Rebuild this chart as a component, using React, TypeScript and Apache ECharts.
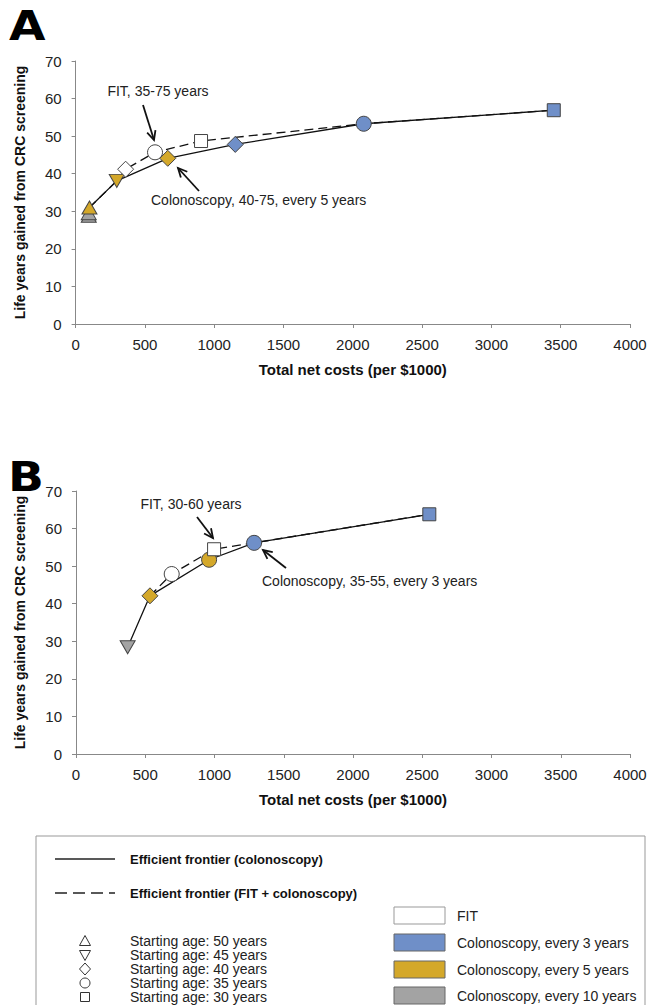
import React, { useEffect, useRef } from "react";
import * as echarts from "echarts";

const FONT = '"Liberation Sans", Arial, Helvetica, sans-serif';

// ---------- Panel A data ----------
const aCosts = [95, 95, 100, 297, 361, 573, 665, 905, 1152, 2079, 3450];
const aLifeYears = [28.8, 29.5, 31.0, 38.1, 41.2, 45.7, 44.1, 48.7, 47.8, 53.3, 56.9];
const aStartAge = [50, 50, 50, 45, 40, 35, 40, 30, 40, 35, 30];
const aStrategy = ["col10", "col10", "col5", "col5", "fit", "fit", "col5", "fit", "col3", "col3", "col3"];
const aFrontierColonoscopy = [1, 2, 3, 6, 8, 9, 10];
const aFrontierFitColonoscopy = [2, 3, 4, 5, 7, 9, 10];

// ---------- Panel B data ----------
const bCosts = [373, 534, 691, 961, 997, 1286, 2551];
const bLifeYears = [28.4, 42.1, 47.9, 51.7, 54.5, 56.2, 63.8];
const bStartAge = [45, 40, 35, 35, 30, 35, 30];
const bStrategy = ["col10", "col5", "fit", "col5", "fit", "col3", "col3"];
const bFrontierColonoscopy = [0, 1, 3, 5, 6];
const bFrontierFitColonoscopy = [1, 2, 4, 5, 6];

// ---------- Axis ticks ----------
const xTicks = [0, 500, 1000, 1500, 2000, 2500, 3000, 3500, 4000];
const yTicks = [0, 10, 20, 30, 40, 50, 60, 70];

// ---------- Legend texts ----------
const ageLegendAges = [50, 45, 40, 35, 30];
const ageLegend = [
  "Starting age: 50 years",
  "Starting age: 45 years",
  "Starting age: 40 years",
  "Starting age: 35 years",
  "Starting age: 30 years",
];
const strategyLegend = ["FIT", "Colonoscopy, every 3 years", "Colonoscopy, every 5 years", "Colonoscopy, every 10 years"];
const strategyKeys = ["fit", "col3", "col5", "col10"];

const COLORS: Record<string, string> = {
  fit: "#ffffff",
  col3: "#6f8fc8",
  col5: "#d4a82a",
  col10: "#a3a3a3",
};

function symbolFor(age: number) {
  switch (age) {
    case 50:
      return { symbol: "triangle", symbolSize: [15, 13], symbolRotate: 0 };
    case 45:
      return { symbol: "triangle", symbolSize: [15, 13], symbolRotate: 180 };
    case 40:
      return { symbol: "diamond", symbolSize: [16, 16], symbolRotate: 0 };
    case 35:
      return { symbol: "circle", symbolSize: 15, symbolRotate: 0 };
    default:
      return { symbol: "rect", symbolSize: 13, symbolRotate: 0 };
  }
}

function markerData(costs: number[], ly: number[], ages: number[], strat: string[]) {
  return costs.map((c, i) => ({
    value: [c, ly[i]],
    ...symbolFor(ages[i]),
    itemStyle: { color: COLORS[strat[i]], borderColor: "#444", borderWidth: 1, opacity: 1 },
  }));
}

function pathData(costs: number[], ly: number[], idx: number[]) {
  return idx.map((i) => [costs[i], ly[i]]);
}

function arrow(x1: number, y1: number, x2: number, y2: number) {
  const ang = Math.atan2(y2 - y1, x2 - x1);
  const len = 10;
  const spread = 0.45;
  const p1 = [x2 - len * Math.cos(ang - spread), y2 - len * Math.sin(ang - spread)];
  const p2 = [x2 - len * Math.cos(ang + spread), y2 - len * Math.sin(ang + spread)];
  return [
    { type: "line", shape: { x1, y1, x2, y2 }, style: { stroke: "#111", lineWidth: 1.8 }, z: 100 },
    {
      type: "polyline",
      shape: { points: [p1, [x2, y2], p2] },
      style: { stroke: "#111", lineWidth: 1.8, fill: null },
      z: 100,
    },
  ];
}

function txt(text: string, x: number, y: number, opts: any = {}) {
  const size = opts.size ?? 14;
  const weight = opts.weight ?? "normal";
  return {
    type: "text",
    x,
    y,
    scaleX: opts.scaleX ?? 1,
    z: 100,
    style: {
      text,
      fill: opts.color ?? "#222",
      font: `${weight} ${size}px ${opts.family ?? FONT}`,
      textAlign: opts.align ?? "left",
      textVerticalAlign: "middle",
      align: opts.align ?? "left",
      verticalAlign: "middle",
    },
  };
}

function legendSymbol(age: number, cx: number, cy: number) {
  const st = { fill: "none", stroke: "#333", lineWidth: 1 };
  const r = 5.5;
  switch (age) {
    case 50:
      return { type: "polygon", shape: { points: [[cx, cy - r], [cx + r, cy + r - 1], [cx - r, cy + r - 1]] }, style: st, z: 100 };
    case 45:
      return { type: "polygon", shape: { points: [[cx - r, cy - r + 1], [cx + r, cy - r + 1], [cx, cy + r]] }, style: st, z: 100 };
    case 40:
      return { type: "polygon", shape: { points: [[cx, cy - r - 0.5], [cx + r, cy], [cx, cy + r + 0.5], [cx - r, cy]] }, style: st, z: 100 };
    case 35:
      return { type: "circle", shape: { cx, cy, r: 5 }, style: st, z: 100 };
    default:
      return { type: "rect", shape: { x: cx - 4.5, y: cy - 4.5, width: 9, height: 9 }, style: st, z: 100 };
  }
}

function axisCommon() {
  return {
    axisLine: { show: true, onZero: false, lineStyle: { color: "#888", width: 1 } },
    axisTick: { show: true, inside: false, length: 4, lineStyle: { color: "#888" } },
    splitLine: { show: false },
  };
}

export default function App() {
  const ref = useRef<HTMLDivElement>(null);

  useEffect(() => {
    if (!ref.current) return;
    const chart = echarts.init(ref.current, null, { renderer: "svg" });

    const gridA = { left: 75.6, top: 61, width: 554.4, height: 263 };
    const gridB = { left: 76, top: 491, width: 554, height: 263 };

    const xAxis = (gi: number) => ({
      type: "value",
      gridIndex: gi,
      min: xTicks[0],
      max: xTicks[xTicks.length - 1],
      interval: xTicks[1] - xTicks[0],
      ...axisCommon(),
      axisLabel: { fontSize: 15, color: "#222", margin: 13, fontFamily: FONT, formatter: (v: number) => String(v) },
      name: "Total net costs (per $1000)",
      nameLocation: "middle",
      nameGap: 38,
      nameTextStyle: { fontSize: 15, fontWeight: "bold", color: "#111", fontFamily: FONT },
    });
    const yAxis = (gi: number) => ({
      type: "value",
      gridIndex: gi,
      min: yTicks[0],
      max: yTicks[yTicks.length - 1],
      interval: yTicks[1] - yTicks[0],
      ...axisCommon(),
      axisLabel: { fontSize: 15, color: "#222", margin: 14, fontFamily: FONT, formatter: (v: number) => String(v) },
      name: "Life years gained from CRC screening",
      nameLocation: "middle",
      nameRotate: 90,
      nameGap: 49,
      nameTextStyle: { fontSize: 14, fontWeight: "bold", color: "#111", fontFamily: FONT },
    });

    const solid = { color: "#111", width: 1.3, type: "solid" };
    const dashed = { color: "#111", width: 1.3, type: [9, 5] };

    const series: any[] = [
      {
        type: "line",
        xAxisIndex: 0,
        yAxisIndex: 0,
        data: pathData(aCosts, aLifeYears, aFrontierFitColonoscopy),
        symbol: "none",
        lineStyle: dashed,
        z: 2,
      },
      {
        type: "line",
        xAxisIndex: 0,
        yAxisIndex: 0,
        data: pathData(aCosts, aLifeYears, aFrontierColonoscopy),
        symbol: "none",
        lineStyle: solid,
        z: 3,
      },
      {
        type: "scatter",
        xAxisIndex: 0,
        yAxisIndex: 0,
        data: markerData(aCosts, aLifeYears, aStartAge, aStrategy),
        itemStyle: { opacity: 1 },
        z: 5,
      },
      {
        type: "line",
        xAxisIndex: 1,
        yAxisIndex: 1,
        data: pathData(bCosts, bLifeYears, bFrontierFitColonoscopy),
        symbol: "none",
        lineStyle: dashed,
        z: 2,
      },
      {
        type: "line",
        xAxisIndex: 1,
        yAxisIndex: 1,
        data: pathData(bCosts, bLifeYears, bFrontierColonoscopy),
        symbol: "none",
        lineStyle: solid,
        z: 3,
      },
      {
        type: "scatter",
        xAxisIndex: 1,
        yAxisIndex: 1,
        data: markerData(bCosts, bLifeYears, bStartAge, bStrategy),
        itemStyle: { opacity: 1 },
        z: 5,
      },
    ];

    // Legend box graphics
    const legend: any[] = [
      {
        type: "rect",
        shape: { x: 36, y: 836, width: 609, height: 220 },
        style: { fill: "#fff", stroke: "#999", lineWidth: 1 },
        z: 50,
      },
      { type: "line", shape: { x1: 55, y1: 859, x2: 115, y2: 859 }, style: { stroke: "#222", lineWidth: 1.3 }, z: 100 },
      txt("Efficient frontier (colonoscopy)", 130, 859, { size: 13, weight: "bold", color: "#111" }),
      {
        type: "line",
        shape: { x1: 55, y1: 893, x2: 115, y2: 893 },
        style: { stroke: "#222", lineWidth: 1.3, lineDash: [12, 6] },
        z: 100,
      },
      txt("Efficient frontier (FIT + colonoscopy)", 130, 893, { size: 13, weight: "bold", color: "#111" }),
    ];
    ageLegend.forEach((t, i) => {
      const y = 941 + i * 14;
      legend.push(legendSymbol(ageLegendAges[i], 85, y));
      legend.push(txt(t, 130, y, { size: 14, color: "#222" }));
    });
    const boxY = [907, 934, 961, 987];
    strategyKeys.forEach((k, i) => {
      legend.push({
        type: "rect",
        shape: { x: 394, y: boxY[i], width: 51, height: 17 },
        style: { fill: COLORS[k], stroke: k === "fit" ? "#999" : "#666", lineWidth: 1 },
        z: 100,
      });
      legend.push(txt(strategyLegend[i], 457, boxY[i] + 9, { size: 14, color: "#222" }));
    });

    const annotations: any[] = [
      txt("A", 9, 26, { size: 41, weight: "bold", color: "#000", family: '"DejaVu Sans", sans-serif', scaleX: 1.15 }),
      txt("B", 8, 477, { size: 41, weight: "bold", color: "#000", family: '"DejaVu Sans", sans-serif', scaleX: 1.15 }),
      txt("FIT, 35-75 years", 158, 91, { align: "center" }),
      ...arrow(143, 105, 154, 140),
      txt("Colonoscopy, 40-75, every 5 years", 151, 200),
      ...arrow(199, 191, 178, 168),
      txt("FIT, 30-60 years", 191, 504, { align: "center" }),
      ...arrow(197, 517, 213, 538),
      txt("Colonoscopy, 35-55, every 3 years", 262, 581),
      ...arrow(286, 568, 263, 550),
    ];

    chart.setOption({
      animation: false,
      backgroundColor: "#fff",
      textStyle: { fontFamily: FONT },
      grid: [gridA, gridB],
      xAxis: [xAxis(0), xAxis(1)],
      yAxis: [yAxis(0), yAxis(1)],
      series,
      graphic: { elements: [...legend, ...annotations] },
    });

    return () => chart.dispose();
  }, []);

  return (
    <div
      ref={ref}
      style={{ position: "absolute", left: 0, top: 0, width: 660, height: 1005, background: "#fff" }}
    />
  );
}
